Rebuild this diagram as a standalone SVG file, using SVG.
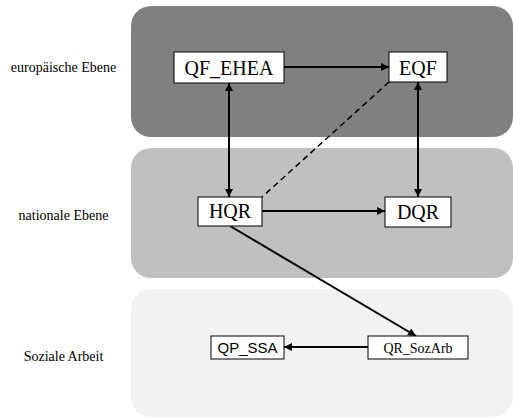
<svg xmlns="http://www.w3.org/2000/svg" width="513" height="419" viewBox="0 0 513 419">
<defs>
<style>
.lbl{font-family:"Liberation Serif","Times New Roman",serif;font-size:14px;fill:#000;text-anchor:middle}
.box{fill:#fff;stroke:#000;stroke-width:1}
.t{font-family:"Liberation Serif","Times New Roman",serif;font-size:20px;fill:#000;text-anchor:middle}
.ts{font-family:"Liberation Serif","Times New Roman",serif;font-size:14px;fill:#000;text-anchor:middle}
.ta{font-family:"Liberation Sans",Arial,sans-serif;font-size:15px;fill:#000;text-anchor:middle}
.c{stroke:#000;stroke-width:2;fill:none}
.d{stroke:#000;stroke-width:1.5;fill:none;stroke-dasharray:6 4}
</style>
<marker id="ah" viewBox="0 0 10 10" refX="10" refY="5" markerWidth="4.5" markerHeight="4" orient="auto-start-reverse" markerUnits="strokeWidth">
<path d="M0,0 L10,5 L0,10 z" fill="#000"/>
</marker>
</defs>
<g id="bands">
<rect x="131" y="6" width="382" height="131" rx="20" fill="#808080"/>
<rect x="131" y="148" width="382" height="130" rx="20" fill="#c0c0c0"/>
<rect x="131" y="289" width="382" height="128" rx="20" fill="#f2f2f2"/>
</g>
<g id="labels">
<text class="lbl" x="63.5" y="72">europäische Ebene</text>
<text class="lbl" x="63.5" y="220">nationale Ebene</text>
<text class="lbl" x="63.5" y="361">Soziale Arbeit</text>
</g>
<g id="connectors">
<line class="c" x1="284" y1="67" x2="389" y2="67" marker-end="url(#ah)"/>
<line class="c" x1="229" y1="83" x2="229" y2="197" marker-start="url(#ah)" marker-end="url(#ah)"/>
<line class="c" x1="418" y1="82" x2="418" y2="197" marker-start="url(#ah)" marker-end="url(#ah)"/>
<line class="d" x1="389" y1="82" x2="262" y2="197"/>
<line class="c" x1="262" y1="211" x2="385" y2="211" marker-end="url(#ah)"/>
<line class="c" x1="230" y1="226" x2="416" y2="336" marker-end="url(#ah)"/>
<line class="c" x1="368" y1="347" x2="284" y2="347" marker-end="url(#ah)"/>
</g>
<g id="QF_EHEA">
<rect class="box" x="174" y="52" width="110" height="31"/>
<text class="t" x="229" y="75">QF_EHEA</text>
</g>
<g id="EQF">
<rect class="box" x="389" y="52" width="58" height="30"/>
<text class="t" x="418" y="75">EQF</text>
</g>
<g id="HQR">
<rect class="box" x="198" y="197" width="64" height="29"/>
<text class="t" x="230" y="218">HQR</text>
</g>
<g id="DQR">
<rect class="box" x="385" y="197" width="66" height="30"/>
<text class="t" x="418" y="219">DQR</text>
</g>
<g id="QR_SozArb">
<rect class="box" x="368" y="336" width="100" height="23"/>
<text class="ts" x="418" y="353">QR_SozArb</text>
</g>
<g id="QP_SSA">
<rect class="box" x="211" y="336" width="73" height="23"/>
<text class="ta" x="247.5" y="353">QP_SSA</text>
</g>
</svg>
